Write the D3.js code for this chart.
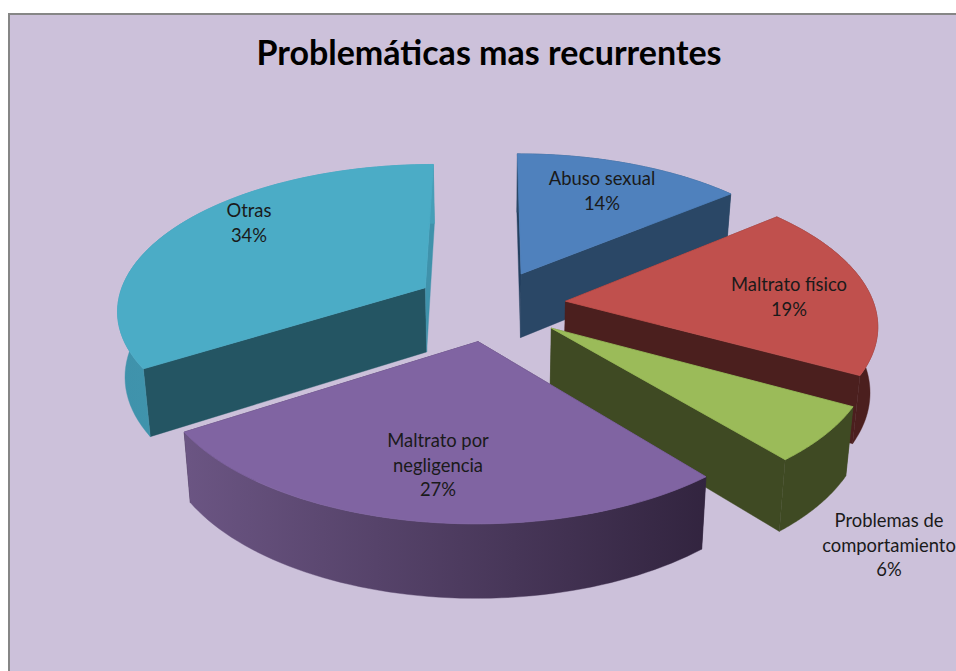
<!DOCTYPE html>
<html>
<head>
<meta charset="utf-8">
<script src="https://cdn.jsdelivr.net/npm/d3@7"></script>
<style>
  html, body { margin: 0; padding: 0; background: #fff; overflow: hidden; }
  text { font-family: Lato, "Open Sans", sans-serif; }
</style>
</head>
<body>
<svg id="chart" width="956" height="671"></svg>
<script>
const title = "Problemáticas mas recurrentes";
const categories = ["Abuso sexual", "Maltrato físico", "Problemas de comportamiento", "Maltrato por negligencia", "Otras"];
const values = [14, 19, 6, 27, 34];
const labelLines = [["Abuso sexual"], ["Maltrato físico"], ["Problemas de", "comportamiento"], ["Maltrato por", "negligencia"], ["Otras"]];

// colours, one per slice
const topColors = ["#4f81bd", "#c0504d", "#9bbb59", "#8064a2", "#4bacc6"];
const rimColors = [["#2a4766", "#2a4766"], ["#4b1f1e", "#4b1f1e"], ["#3f4a23", "#3f4a23"], ["#6b5583", "#32243f"], ["#3f92ab", "#459fb8"]];
const startWallColors = ["#24405f", "#4b1f1e", "#3f4a23", "#32243f", "#245563"];
const endWallColors = ["#2a4766", "#4b1f1e", "#3f4a23", "#32243f", "#3f92ab"];
// centre of each label, in page pixels
const labelCenters = [[602, 185], [789, 291], [889, 527], [438, 447], [249, 217]];
// how far each slice is pulled out, in pie radii
const explodes = [0.24, 0.245, 0.25, 0.25, 0.245];

// pie geometry fitted to the picture
const cx = 490.5, cy = 304.5;
const radiusX = 308.5, radiusY = 145;
const perspective = 0.141;
const depth = 65;
const bottomShrink = 0.98;
const lineGap = 24.7;

const svg = d3.select("#chart");

// plate
svg.append("rect")
    .attr("x", 9).attr("y", 14)
    .attr("width", 1000).attr("height", 800)
    .attr("fill", "#ccc1da")
    .attr("stroke", "#868686")
    .attr("stroke-width", 2);

const xScale = d3.scaleLinear().domain([-1, 1]).range([cx - radiusX, cx + radiusX]);
const yScale = d3.scaleLinear().domain([-1, 1]).range([cy + radiusY, cy - radiusY]);

// u is right, v is away from the viewer, both in pie radii
function project(u, v, isTop) {
    const s = 1 / (1 + perspective * v);
    const k = isTop ? 1 : bottomShrink;
    return [
        xScale(u * s * k),
        yScale(v * s * k) + (isTop ? 0 : depth * s)
    ];
}

const pie = d3.pie().sort(null).startAngle(0).endAngle(2 * Math.PI);
const arcs = pie(values);
const line = d3.line();

arcs.forEach((d, i) => {
    const mid = (d.startAngle + d.endAngle) / 2;
    d.du = explodes[i] * Math.sin(mid);
    d.dv = explodes[i] * Math.cos(mid);
    d.steps = d3.range(0, 61).map(j => d.startAngle + (d.endAngle - d.startAngle) * j / 60);
    d.rim = (t, isTop) => project(d.du + Math.sin(t), d.dv + Math.cos(t), isTop);
    d.apex = isTop => project(d.du, d.dv, isTop);
});

// gradients for the outer walls
const defs = svg.append("defs");
arcs.forEach((d, i) => {
    const xs = d.steps.map(t => d.rim(t, true)[0]);
    const grad = defs.append("linearGradient")
        .attr("id", "rim" + i)
        .attr("gradientUnits", "userSpaceOnUse")
        .attr("x1", d3.min(xs)).attr("x2", d3.max(xs))
        .attr("y1", 0).attr("y2", 0);
    grad.append("stop").attr("offset", 0).attr("stop-color", rimColors[i][0]);
    grad.append("stop").attr("offset", 1).attr("stop-color", rimColors[i][1]);
});

// back to front
const drawOrder = [0, 4, 1, 2, 3];
drawOrder.forEach(i => {
    const d = arcs[i];
    const g = svg.append("g").attr("class", "slice");

    const rimTop = d.steps.map(t => d.rim(t, true));
    const rimBottom = d.steps.map(t => d.rim(t, false));

    g.append("path")
        .attr("d", line([d.apex(true), d.rim(d.startAngle, true), d.rim(d.startAngle, false), d.apex(false)]) + "Z")
        .attr("fill", startWallColors[i])
        .attr("stroke", startWallColors[i])
        .attr("stroke-width", 0.4);

    g.append("path")
        .attr("d", line([d.apex(true), d.rim(d.endAngle, true), d.rim(d.endAngle, false), d.apex(false)]) + "Z")
        .attr("fill", endWallColors[i])
        .attr("stroke", endWallColors[i])
        .attr("stroke-width", 0.4);

    g.append("path")
        .attr("d", line(rimTop.concat(rimBottom.slice().reverse())) + "Z")
        .attr("fill", `url(#rim${i})`)
        .attr("stroke", `url(#rim${i})`)
        .attr("stroke-width", 0.4);

    // own-colour stroke covers the wall edge behind the top face
    g.append("path")
        .attr("d", line([d.apex(true)].concat(rimTop)) + "Z")
        .attr("fill", topColors[i])
        .attr("stroke", topColors[i])
        .attr("stroke-width", 0.8);
});

// title
svg.append("text")
    .attr("x", 489).attr("y", 65)
    .attr("text-anchor", "middle")
    .attr("font-size", 34)
    .attr("font-weight", 700)
    .attr("fill", "#000")
    .text(title);

// data labels
categories.forEach((c, i) => {
    const lines = labelLines[i].concat([values[i] + "%"]);
    const t = svg.append("text")
        .attr("text-anchor", "middle")
        .attr("font-size", 18.4)
        .attr("fill", "#1a1a1a");
    lines.forEach((l, j) => {
        t.append("tspan")
            .attr("x", labelCenters[i][0])
            .attr("y", labelCenters[i][1] + j * lineGap)
            .text(l);
    });
});
</script>
</body>
</html>
